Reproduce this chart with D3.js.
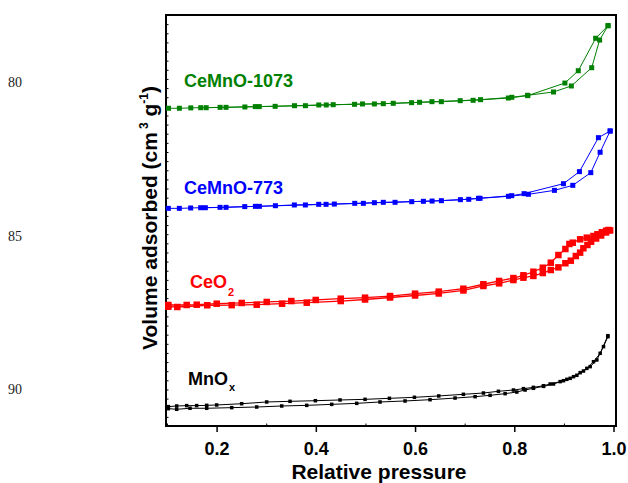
<!DOCTYPE html>
<html>
<head>
<meta charset="utf-8">
<script src="https://cdn.jsdelivr.net/npm/d3@7"></script>
<style>
  body { margin: 0; background: #fff; }
  text { font-family: "Liberation Sans", Arial, sans-serif; }
</style>
</head>
<body>
<div id="chart"></div>
<script>
// Isotherm data: [relative pressure, volume adsorbed (offset curves)]
const mnoxAds = [[0.1027, 19.0], [0.1195, 18.3], [0.1464, 19.4], [0.18, 19.4], [0.2304, 20.1], [0.2808, 20.8],
  [0.3312, 21.9], [0.3816, 22.6], [0.432, 23.7], [0.4824, 24.8], [0.5294, 26.3], [0.5798, 27.4], [0.6302, 28.8],
  [0.6806, 30.6], [0.721, 32.1], [0.7512, 33.6], [0.7815, 35.4], [0.805, 37.2], [0.8218, 39.4], [0.8386, 41.3],
  [0.8589, 43.4], [0.879, 46.0], [0.8992, 49.6], [0.9126, 52.2], [0.9261, 55.5], [0.9395, 60.2], [0.953, 65.0],
  [0.9664, 72.3], [0.9798, 86.9], [0.9886, 97.8]];
const mnoxDes = [[0.9886, 98.9], [0.9731, 79.6], [0.9597, 70.4], [0.9462, 63.1], [0.9328, 58.4], [0.9194, 54.0],
  [0.9059, 51.1], [0.8925, 48.6], [0.8723, 46.0], [0.8589, 44.1], [0.8386, 42.3], [0.8185, 40.9], [0.7983, 39.4],
  [0.768, 38.0], [0.7378, 36.1], [0.6974, 34.7], [0.6477, 32.9], [0.5987, 31.4], [0.5483, 30.3], [0.4992, 29.2],
  [0.4488, 28.5], [0.3991, 27.7], [0.348, 27.0], [0.3009, 26.3], [0.2505, 24.4], [0.2001, 23.0], [0.18, 22.6],
  [0.1598, 22.3], [0.1397, 22.3], [0.1195, 21.9], [0.1027, 21.2]];

const ceo2Ads = [[0.1027, 130.6], [0.1208, 130.3], [0.1812, 132.2], [0.2304, 132.3], [0.2808, 132.8], [0.3319, 133.9],
  [0.3817, 135.0], [0.4502, 136.8], [0.4992, 138.5], [0.5496, 140.7], [0.6, 142.9], [0.6478, 145.1], [0.6974, 148.4],
  [0.7377, 153.3], [0.7694, 156.2], [0.7982, 159.8], [0.8184, 162.4], [0.8385, 164.3], [0.8575, 167.5],
  [0.8736, 170.8], [0.8889, 173.7], [0.903, 178.2], [0.9139, 181.0], [0.924, 186.1], [0.9327, 189.8],
  [0.9393, 194.6], [0.9474, 198.2], [0.9548, 201.8], [0.9649, 205.3], [0.975, 208.6], [0.985, 211.9], [0.9931, 214.1]];
const ceo2Des = [[0.9897, 214.6], [0.9851, 213.8], [0.9764, 212.1], [0.9675, 209.9], [0.9595, 208.0], [0.9462, 206.2],
  [0.9327, 204.4], [0.9179, 200.7], [0.9111, 199.3], [0.903, 193.8], [0.8889, 187.2], [0.8736, 178.8],
  [0.8575, 173.3], [0.8385, 168.9], [0.8184, 165.0], [0.7982, 162.0], [0.7694, 158.8], [0.7377, 155.2],
  [0.6974, 150.3], [0.6478, 147.1], [0.6, 144.9], [0.5496, 142.3], [0.4992, 140.5], [0.4502, 139.4], [0.3998, 138.0],
  [0.3506, 136.8], [0.301, 135.8], [0.2506, 134.7], [0.2002, 133.9], [0.1599, 132.8], [0.1397, 132.5], [0.1027, 132.5]];

const cemno773Ads = [[0.1027, 238.3], [0.1249, 238.3], [0.1477, 238.7], [0.1679, 239.0], [0.2069, 239.4],
  [0.2567, 240.2], [0.2862, 240.5], [0.3185, 241.2], [0.3567, 242.0], [0.4058, 242.7], [0.4373, 243.0],
  [0.4784, 243.8], [0.518, 244.5], [0.5597, 244.9], [0.5933, 245.6], [0.6343, 246.3], [0.6914, 247.8],
  [0.731, 249.3], [0.7882, 251.5], [0.8285, 253.7], [0.8809, 258.0], [0.9179, 263.5], [0.9542, 277.4],
  [0.973, 299.7], [0.9932, 323.0]];
const cemno773Des = [[0.9932, 323.0], [0.9696, 315.7], [0.9313, 278.5], [0.8991, 265.3], [0.8198, 254.4],
  [0.7949, 252.2], [0.7277, 249.3], [0.7082, 248.2], [0.6531, 246.7], [0.6168, 246.0], [0.536, 244.9],
  [0.4958, 243.8], [0.4206, 242.7], [0.3789, 242.0], [0.2782, 240.5], [0.219, 239.4], [0.1773, 239.0]];

const cemno1073Ads = [[0.103, 347.9], [0.125, 347.9], [0.148, 348.3], [0.168, 348.5], [0.207, 348.9], [0.257, 349.3],
  [0.286, 349.7], [0.318, 350.0], [0.357, 350.7], [0.406, 351.5], [0.435, 351.8], [0.478, 352.2], [0.518, 352.6],
  [0.556, 353.3], [0.593, 354.0], [0.634, 355.1], [0.691, 356.2], [0.732, 357.3], [0.795, 359.9], [0.827, 362.1],
  [0.879, 365.7], [0.915, 372.3], [0.956, 392.3], [0.972, 422.6], [0.989, 438.3]];
const cemno1073Des = [[0.989, 438.3], [0.964, 424.5], [0.929, 389.0], [0.902, 375.5], [0.827, 361.7], [0.788, 359.1],
  [0.717, 356.6], [0.653, 355.1], [0.609, 354.4], [0.536, 352.9], [0.494, 352.6], [0.421, 351.5], [0.379, 350.7],
  [0.278, 349.7], [0.219, 348.9], [0.179, 348.5]];

const xTicks = [0.2, 0.4, 0.6, 0.8, 1.0];
const xMinorTicks = [0.1, 0.3, 0.5, 0.7, 0.9];
const sideLabels = [80, 85, 90];

const series = [
  { name: 'MnO', sub: 'x', color: '#000000', size: 3.5, width: 1, ads: mnoxAds, des: mnoxDes, lx: 188, ly: 385, subDy: 6 },
  { name: 'CeO', sub: '2', color: '#ff0000', size: 6.5, width: 1.3, ads: ceo2Ads, des: ceo2Des, lx: 190, ly: 288, subDy: 8 },
  { name: 'CeMnO-773', sub: '', color: '#0000ff', size: 5, width: 1, ads: cemno773Ads, des: cemno773Des, lx: 184, ly: 194 },
  { name: 'CeMnO-1073', sub: '', color: '#008000', size: 5, width: 1, ads: cemno1073Ads, des: cemno1073Des, lx: 184, ly: 87 },
];

const W = 628;
const H = 483;
const margin = { top: 15, right: 12, bottom: 57, left: 166 };
const width = W - margin.left - margin.right;
const height = H - margin.top - margin.bottom;

const svg = d3.select('#chart')
  .append('svg')
  .attr('width', W)
  .attr('height', H);

const x = d3.scaleLinear().domain([0.098, 1.005]).range([margin.left, margin.left + width]);
const y = d3.scaleLinear().domain([0, 450]).range([margin.top + height, margin.top]);
const side = d3.scaleLinear().domain([77.8, 91.2]).range([margin.top, margin.top + height]);

// left minor ticks (inside)
const yAxis = d3.axisRight(y).tickValues(d3.range(10, 450, 10)).tickSize(2.5).tickFormat('');
svg.append('g')
  .attr('transform', `translate(${margin.left},0)`)
  .call(yAxis)
  .call(g => g.select('.domain').remove())
  .selectAll('line').attr('stroke', '#000').attr('stroke-width', 1);

// bottom axis: major ticks outward, minor inward
const xAxis = d3.axisBottom(x).tickValues(xTicks).tickSize(6).tickFormat(d3.format('.1f'));
svg.append('g')
  .attr('transform', `translate(0,${margin.top + height})`)
  .call(xAxis)
  .call(g => g.select('.domain').remove())
  .call(g => g.selectAll('line').attr('stroke-width', 1.5))
  .call(g => g.selectAll('text')
    .attr('dy', null)
    .attr('y', 29)
    .attr('font-size', 18)
    .attr('font-weight', 'bold')
    .attr('font-family', '"Liberation Sans", Arial, sans-serif')
    .attr('fill', '#000'));

svg.append('g')
  .attr('transform', `translate(0,${margin.top + height})`)
  .call(d3.axisTop(x).tickValues(xMinorTicks).tickSize(2.5).tickFormat(''))
  .call(g => g.select('.domain').remove());

// frame
svg.append('rect')
  .attr('x', margin.left)
  .attr('y', margin.top)
  .attr('width', width)
  .attr('height', height)
  .attr('fill', 'none')
  .attr('stroke', '#000')
  .attr('stroke-width', 2);

// stray serif labels on the far left
svg.selectAll('.side-label')
  .data(sideLabels)
  .enter()
  .append('text')
  .attr('class', 'side-label')
  .attr('x', 8)
  .attr('y', d => side(d))
  .attr('dy', '0.35em')
  .style('font-family', '"Liberation Serif", "Times New Roman", serif')
  .attr('font-size', 14)
  .attr('fill', '#222')
  .text(d => d);

const line = d3.line().x(d => x(d[0])).y(d => y(d[1]));

series.forEach(s => {
  const g = svg.append('g');
  [s.ads, s.des].forEach(branch => {
    g.append('path')
      .datum(branch)
      .attr('d', line)
      .attr('fill', 'none')
      .attr('stroke', s.color)
      .attr('stroke-width', s.width);
  });
  g.selectAll('rect')
    .data(s.ads.concat(s.des))
    .enter()
    .append('rect')
    .attr('x', d => x(d[0]) - s.size / 2)
    .attr('y', d => y(d[1]) - s.size / 2)
    .attr('width', s.size)
    .attr('height', s.size)
    .attr('fill', s.color);

  const label = svg.append('text')
    .attr('x', s.lx)
    .attr('y', s.ly)
    .attr('font-size', 18)
    .attr('font-weight', 'bold')
    .attr('fill', s.color)
    .text(s.name);
  if (s.sub) {
    label.append('tspan')
      .attr('font-size', 11)
      .attr('dx', 1)
      .attr('dy', s.subDy)
      .text(s.sub);
  }
});

// axis titles
svg.append('text')
  .attr('x', margin.left + width / 2 - 12)
  .attr('y', 479)
  .attr('text-anchor', 'middle')
  .attr('font-size', 21)
  .attr('font-weight', 'bold')
  .text('Relative pressure');

const yTitle = svg.append('text')
  .attr('transform', 'translate(157,218) rotate(-90)')
  .attr('text-anchor', 'middle')
  .attr('font-size', 21)
  .attr('font-weight', 'bold');
yTitle.append('tspan').text('Volume adsorbed (cm');
yTitle.append('tspan').attr('font-size', 12).attr('dx', 3).attr('dy', -9).text('3');
yTitle.append('tspan').attr('dy', 9).text(' g');
yTitle.append('tspan').attr('font-size', 12).attr('dy', -9).text('-1');
yTitle.append('tspan').attr('dy', 9).text(')');
</script>
</body>
</html>
